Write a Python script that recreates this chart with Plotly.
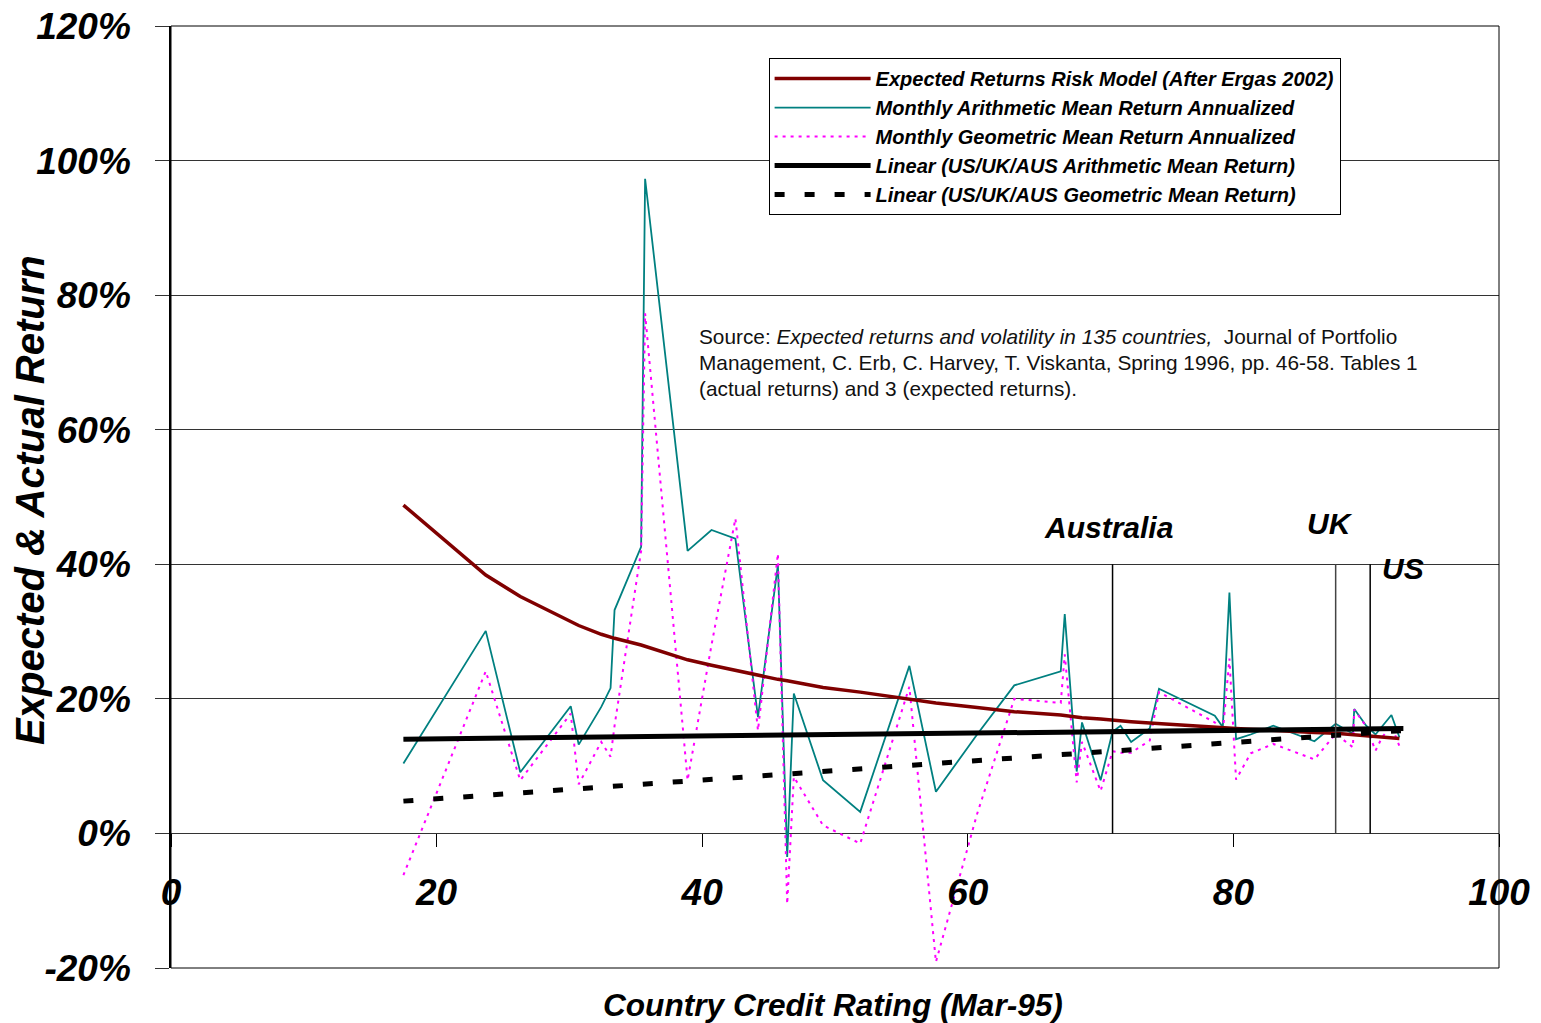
import plotly.graph_objects as go

# Country credit rating (Mar-95)
rating = [17.5, 23.7, 26.3, 30.1, 30.7, 32.4, 33.1, 33.4, 35.4, 35.7,
          38.9, 40.7, 42.5, 44.2, 45.7, 46.4, 46.9, 49.1, 51.9, 55.6,
          57.6, 60.7, 63.5, 67.0, 67.3, 68.2, 68.6, 70.0, 70.9, 71.5,
          72.3, 73.7, 74.4, 78.6, 79.2, 79.7, 80.2, 81.3, 83.0, 86.1,
          87.7, 89.0, 89.1, 90.0, 90.7, 91.2, 91.9, 92.5]

# Monthly arithmetic mean return annualized (%)
arith = [10.4, 30.1, 9.1, 18.9, 13.2, 18.8, 21.6, 33.2, 42.6, 97.3,
         42.0, 45.1, 43.8, 17.3, 39.9, -3.5, 20.8, 7.9, 3.2, 24.9,
         6.2, 14.7, 22.0, 24.1, 32.6, 9.2, 16.5, 7.9, 15.1, 16.0,
         13.6, 15.6, 21.5, 17.5, 15.8, 35.8, 14.0, 14.7, 16.0, 13.7,
         16.3, 14.8, 18.5, 16.0, 14.7, 15.9, 17.6, 14.3]

# Monthly geometric mean return annualized (%)
geom = [-6.2, 24.1, 7.9, 17.8, 7.3, 13.6, 11.4, 16.0, 42.0, 77.3,
        7.9, 28.0, 46.8, 15.3, 41.6, -10.5, 8.4, 1.2, -1.5, 21.8,
        -19.1, 2.9, 20.0, 19.4, 26.6, 7.6, 13.6, 6.3, 12.2, 12.0,
        12.0, 13.8, 21.0, 16.5, 15.0, 26.0, 8.0, 11.9, 13.3, 11.0,
        14.8, 12.8, 18.4, 15.9, 12.3, 14.3, 16.0, 13.0]

# Expected returns risk model (%)
expected = [48.8, 38.4, 35.2, 31.4, 30.9, 29.6, 29.2, 29.0, 28.0, 27.8,
            25.8, 25.0, 24.2, 23.5, 22.9, 22.7, 22.5, 21.7, 21.0, 19.9,
            19.4, 18.7, 18.1, 17.6, 17.5, 17.3, 17.2, 17.0, 16.8, 16.7,
            16.6, 16.4, 16.3, 15.8, 15.7, 15.6, 15.6, 15.5, 15.3, 15.0,
            14.9, 14.7, 14.7, 14.5, 14.4, 14.3, 14.2, 14.1]

# Linear trend lines (US/UK/AUS)
trend_x = [17.5, 92.8]
trend_arith = [14.0, 15.6]
trend_geom = [4.8, 15.3]

# Reference countries
countries = ["Australia", "UK", "US"]
country_rating = [70.9, 87.7, 90.3]
label_x = [70.6, 87.3, 92.8]
label_y = [45.5, 46.1, 39.4]

xticks = [0, 20, 40, 60, 80, 100]
yticks = [-20, 0, 20, 40, 60, 80, 100, 120]
ytick_text = ["-20%", "0%", "20%", "40%", "60%", "80%", "100%", "120%"]

FONT = "Liberation Sans, Arial, sans-serif"
BI = dict(family=FONT, color="black", weight="bold", style="italic")

fig = go.Figure()

fig.add_trace(go.Scatter(x=rating, y=arith, mode="lines",
                         name="Monthly Arithmetic Mean Return Annualized",
                         line=dict(color="#008080", width=1.8), legendrank=2))
fig.add_trace(go.Scatter(x=rating, y=geom, mode="lines",
                         name="Monthly Geometric Mean Return Annualized",
                         line=dict(color="#FF00FF", width=2, dash="3px,5px"), legendrank=3))
fig.add_trace(go.Scatter(x=rating, y=expected, mode="lines",
                         name="Expected Returns Risk Model (After Ergas 2002)",
                         line=dict(color="#800000", width=3.5), legendrank=1))
fig.add_trace(go.Scatter(x=trend_x, y=trend_arith, mode="lines",
                         name="Linear (US/UK/AUS Arithmetic Mean Return)",
                         line=dict(color="black", width=5), legendrank=4))
fig.add_trace(go.Scatter(x=trend_x, y=trend_geom, mode="lines",
                         name="Linear (US/UK/AUS Geometric Mean Return)",
                         line=dict(color="black", width=5, dash="10px,20px"), legendrank=5))

shapes = [dict(type="rect", xref="paper", yref="paper", x0=0, x1=1, y0=0, y1=1,
               line=dict(color="black", width=1), layer="above")]
for r, c in zip(country_rating, countries):
    shapes.append(dict(type="line", xref="x", yref="y", x0=r, x1=r, y0=0, y1=40,
                       line=dict(color="#444" if c == "UK" else "black", width=1.5)))

annotations = []
for c, lx, ly in zip(countries, label_x, label_y):
    annotations.append(dict(x=lx, y=ly, xref="x", yref="y", text=c, showarrow=False,
                            xanchor="center", yanchor="middle", font=dict(size=30, **BI)))

src_lines = [
    "Source: <i>Expected returns and volatility in 135 countries,</i>  Journal of Portfolio",
    "Management, C. Erb, C. Harvey, T. Viskanta, Spring 1996, pp. 46-58. Tables 1",
    "(actual returns) and 3 (expected returns).",
]
src_y = [73.9, 70.0, 66.2]
for t, yy in zip(src_lines, src_y):
    annotations.append(dict(x=39.6, y=yy, xref="x", yref="y", text=t, showarrow=False,
                            xanchor="left", yanchor="middle", align="left",
                            font=dict(family=FONT, size=20.8, color="#111")))

annotations.append(dict(x=0.4985, y=-0.0393, xref="paper", yref="paper",
                        text="Country Credit Rating (Mar-95)", showarrow=False,
                        xanchor="center", yanchor="middle", font=dict(size=31.6, **BI)))
annotations.append(dict(x=-0.1062, y=0.4968, xref="paper", yref="paper",
                        text="Expected & Actual Return", showarrow=False, textangle=-90,
                        xanchor="center", yanchor="middle", font=dict(size=40, **BI)))

fig.update_layout(
    width=1541, height=1023,
    margin=dict(l=171, r=42, t=26, b=55),
    paper_bgcolor="white", plot_bgcolor="white",
    showlegend=True,
    legend=dict(x=0.450, y=0.966, xanchor="left", yanchor="top",
                bgcolor="white", bordercolor="black", borderwidth=1,
                font=dict(size=20, **BI), itemwidth=96,
                entrywidth=600, entrywidthmode="pixels"),
    xaxis=dict(range=[0, 100], tickvals=xticks, showgrid=False, zeroline=False,
               showline=False, ticks="outside", ticklen=13, tickcolor="black",
               anchor="free", position=20 / 140, tickfont=dict(size=37, **BI),
               ticklabelstandoff=13, automargin=False),
    yaxis=dict(range=[-20, 120], tickvals=yticks, ticktext=ytick_text, showgrid=True,
               gridcolor="#333", gridwidth=1, zeroline=False, showline=True,
               linecolor="black", linewidth=1.5, ticks="outside", ticklen=14,
               tickcolor="#333", tickfont=dict(size=37, **BI), ticklabelstandoff=17,
               automargin=False),
    shapes=shapes, annotations=annotations,
)

fig.write_html("out.html", post_script="document.body.style.margin='0';",
               config={"displayModeBar": False})
